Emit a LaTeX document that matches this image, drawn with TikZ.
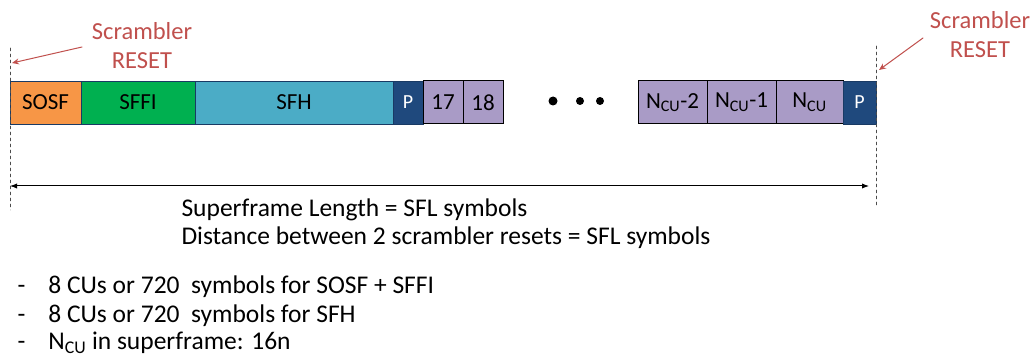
\documentclass[tikz,border=0pt]{standalone}
\usepackage{fontspec}
\setmainfont{Carlito}
\usetikzlibrary{positioning,arrows.meta}
\definecolor{sosfcol}{HTML}{F79646}
\definecolor{sffigreen}{HTML}{00B050}
\definecolor{sfhblue}{HTML}{4BACC6}
\definecolor{pilotblue}{HTML}{1F497D}
\definecolor{cupurple}{HTML}{A99BC6}
\definecolor{resetred}{HTML}{C0504D}
\tikzset{
  blk/.style={draw=pilotblue!80!black, line width=0.6pt, minimum height=43pt, inner sep=0pt,
    outer sep=0pt, font=\fontsize{23}{23}\selectfont},
  cu/.style={blk, draw=black, line width=1pt, fill=cupurple},
  pil/.style={blk, fill=pilotblue, text=white, minimum width=30pt, font=\fontsize{20}{20}\selectfont},
  reset/.style={text=resetred, align=center, font=\fontsize{24.5}{29}\selectfont},
  bullet/.style={anchor=west, font=\fontsize{25.5}{25.5}\selectfont},
}
\begin{document}
\begin{tikzpicture}[x=1pt, y=-1pt, line cap=round]
\useasboundingbox (0,0) rectangle (1034,358);
% frame
\node[blk, fill=sosfcol, minimum width=71pt, anchor=west] (sosf) at (10,102.5) {SOSF};
\node[blk, fill=sffigreen, minimum width=114pt, right=0pt of sosf] (sffi) {SFFI};
\node[blk, fill=sfhblue, minimum width=198pt, right=0pt of sffi] (sfh) {SFH};
\node[pil, right=0pt of sfh] (pa) {P};
\node[cu, minimum width=40pt, right=0pt of pa] (cu17) {17};
\node[cu, minimum width=40pt, right=0pt of cu17] (cu18) {18};
\fill (553,101) circle (4.5) (580,101) circle (4) (600,101) circle (4);
\node[cu, minimum width=69pt, anchor=west] (cum2) at (638,102.5) {N\textsubscript{CU}-2};
\node[cu, minimum width=69pt, right=0pt of cum2] (cum1) {N\textsubscript{CU}-1};
\node[cu, minimum width=67pt, right=0pt of cum1] (cun) {N\textsubscript{CU}};
\node[pil, minimum width=33pt, right=0pt of cun] (pb) {P};
% reset markers
\coordinate (lt) at (10,48);
\coordinate (lb) at (10,210);
\coordinate (rt) at (876,46);
\coordinate (rb) at (876,206);
\draw[dashed, black!70, line width=0.5pt] (lt) -- (lb);
\draw[dashed, black!70, line width=0.5pt] (rt) -- (rb);
\node[reset] (resetl) at (142,46) {Scrambler\\RESET};
\node[reset] (resetr) at (980,35) {Scrambler\\RESET};
\coordinate (la) at (12,63);
\coordinate (ra) at (879,70);
\draw[resetred, line width=1pt, -{Stealth[length=7pt,width=6pt]}] (82,47) -- (la);
\draw[resetred, line width=1pt, -{Stealth[length=7pt,width=6pt]}] (923,38) -- (ra);
% length
\coordinate (al) at (10,186);
\coordinate (ar) at (869,186);
\draw[line width=1pt, {Latex[length=7pt]}-{Latex[length=7pt]}] (al) -- (ar);
\node[bullet] (sfl) at (178,210) {Superframe Length = SFL symbols};
\node[bullet] (dist) at (178,238) {Distance between 2 scrambler resets = SFL symbols};
% notes
\node[bullet] (n1) at (14,287) {-\hspace{23pt}8 CUs or 720\ \ symbols for SOSF + SFFI};
\node[bullet] (n2) at (14,316) {-\hspace{23pt}8 CUs or 720\ \ symbols for SFH};
\node[bullet] (n3) at (14,343) {-\hspace{23pt}N\textsubscript{CU} in superframe: 16n};
\end{tikzpicture}
\end{document}
